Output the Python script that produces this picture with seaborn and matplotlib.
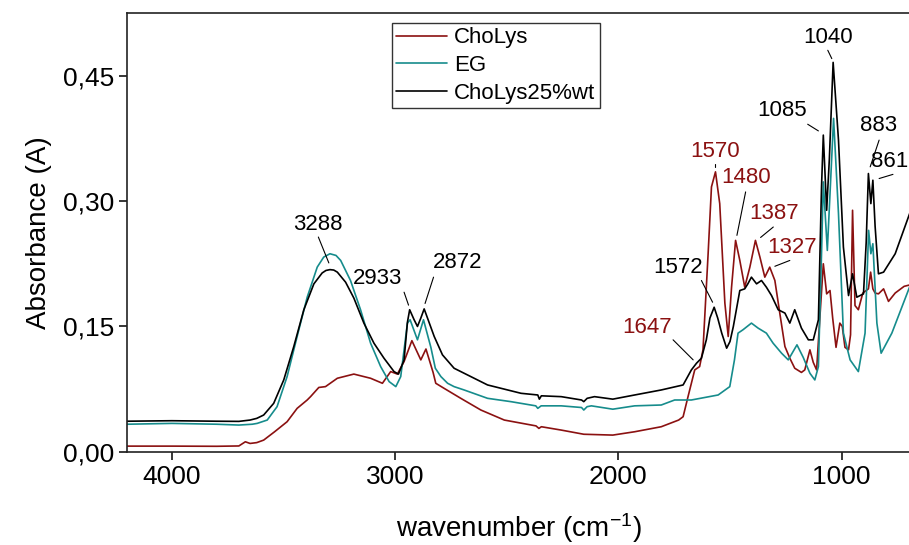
import matplotlib
matplotlib.use("Agg")
import matplotlib.pyplot as plt
from matplotlib.ticker import FuncFormatter
import seaborn as sns
import pandas as pd

# ChoLys (dark red)
wn_cholys = [4200, 4000, 3800, 3700, 3671, 3650, 3620, 3589, 3540, 3484, 3439, 3394, 3379, 3342,
             3312, 3259, 3185, 3110, 3057, 3020, 2990, 2960, 2925, 2885, 2862, 2830, 2818, 2781,
             2706, 2616, 2511, 2369, 2356, 2345, 2256, 2155, 2025, 1927, 1808, 1730, 1710, 1688,
             1658, 1636, 1621, 1598, 1583, 1565, 1546, 1523, 1508, 1493, 1475, 1456, 1434, 1411,
             1386, 1366, 1344, 1322, 1299, 1277, 1254, 1232, 1210, 1180, 1165, 1142, 1127, 1112,
             1098, 1082, 1067, 1052, 1040, 1025, 1008, 997, 985, 969, 960, 951, 940, 925, 905,
             880, 870, 860, 850, 835, 812, 790, 760, 720, 690]
abs_cholys = [0.0068, 0.0068, 0.0066, 0.007, 0.012, 0.010, 0.011, 0.014, 0.024, 0.036, 0.052, 0.062,
              0.066, 0.077, 0.078, 0.088, 0.093, 0.088, 0.082, 0.096, 0.093, 0.108, 0.133, 0.110,
              0.123, 0.095, 0.082, 0.076, 0.064, 0.050, 0.038, 0.031, 0.028, 0.030, 0.026, 0.021,
              0.020, 0.024, 0.030, 0.038, 0.042, 0.066, 0.098, 0.102, 0.122, 0.237, 0.317, 0.335,
              0.297, 0.178, 0.138, 0.197, 0.253, 0.229, 0.197, 0.221, 0.253, 0.233, 0.209, 0.221,
              0.205, 0.166, 0.126, 0.112, 0.100, 0.095, 0.098, 0.122, 0.107, 0.098, 0.158, 0.225,
              0.189, 0.193, 0.160, 0.125, 0.154, 0.150, 0.125, 0.122, 0.140, 0.289, 0.175, 0.170,
              0.190, 0.195, 0.215, 0.195, 0.190, 0.189, 0.195, 0.180, 0.190, 0.198, 0.200]

# EG (teal)
wn_eg = [4200, 4000, 3800, 3700, 3640, 3618, 3573, 3529, 3484, 3439, 3394, 3349, 3320, 3292, 3265,
         3244, 3200, 3155, 3110, 3065, 3027, 2997, 2975, 2945, 2933, 2900, 2873, 2840, 2820, 2795,
         2765, 2736, 2691, 2586, 2481, 2370, 2361, 2346, 2256, 2165, 2155, 2140, 2121, 2025, 1927,
         1808, 1748, 1673, 1553, 1501, 1480, 1464, 1442, 1404, 1374, 1337, 1307, 1269, 1239, 1200,
         1172, 1142, 1120, 1104, 1090, 1082, 1064, 1050, 1036, 1014, 992, 962, 925, 895, 879, 869,
         860, 842, 823, 775, 690]
abs_eg = [0.033, 0.034, 0.033, 0.032, 0.033, 0.034, 0.038, 0.054, 0.090, 0.138, 0.185, 0.221, 0.233,
          0.237, 0.235, 0.229, 0.205, 0.170, 0.130, 0.102, 0.084, 0.078, 0.090, 0.154, 0.158, 0.134,
          0.158, 0.125, 0.100, 0.090, 0.082, 0.078, 0.074, 0.064, 0.060, 0.055, 0.052, 0.055, 0.055,
          0.053, 0.050, 0.054, 0.055, 0.051, 0.055, 0.056, 0.062, 0.062, 0.068, 0.078, 0.110, 0.142,
          0.146, 0.154, 0.148, 0.142, 0.130, 0.118, 0.110, 0.128, 0.113, 0.094, 0.086, 0.102, 0.237,
          0.323, 0.241, 0.320, 0.399, 0.285, 0.142, 0.110, 0.096, 0.142, 0.265, 0.237, 0.249, 0.154,
          0.118, 0.142, 0.201]

# ChoLys25%wt (black)
wn_mix = [4200, 4000, 3800, 3700, 3650, 3620, 3589, 3544, 3499, 3454, 3409, 3364, 3327, 3310, 3292,
          3275, 3259, 3222, 3185, 3140, 3095, 3050, 3005, 2985, 2960, 2945, 2935, 2915, 2900, 2885,
          2870, 2855, 2825, 2788, 2736, 2676, 2586, 2496, 2436, 2361, 2354, 2345, 2256, 2165, 2155,
          2140, 2107, 2025, 1927, 1808, 1710, 1673, 1650, 1628, 1606, 1590, 1571, 1555, 1537, 1515,
          1500, 1485, 1456, 1434, 1420, 1404, 1381, 1359, 1337, 1314, 1284, 1254, 1232, 1210, 1180,
          1149, 1127, 1104, 1090, 1082, 1067, 1055, 1038, 1014, 992, 969, 951, 932, 902, 890, 880,
          869, 860, 850, 835, 812, 760, 690]
abs_mix = [0.0366, 0.0372, 0.0366, 0.0364, 0.038, 0.040, 0.044, 0.058, 0.086, 0.126, 0.170, 0.201,
           0.214, 0.217, 0.218, 0.2175, 0.215, 0.203, 0.184, 0.154, 0.130, 0.112, 0.096, 0.093, 0.110,
           0.155, 0.170, 0.158, 0.150, 0.160, 0.171, 0.160, 0.138, 0.116, 0.100, 0.092, 0.080, 0.074,
           0.070, 0.068, 0.063, 0.067, 0.066, 0.062, 0.060, 0.064, 0.066, 0.063, 0.068, 0.074, 0.080,
           0.098, 0.106, 0.112, 0.134, 0.160, 0.173, 0.160, 0.142, 0.124, 0.132, 0.150, 0.193, 0.195,
           0.201, 0.209, 0.201, 0.205, 0.197, 0.187, 0.170, 0.166, 0.154, 0.170, 0.148, 0.134, 0.134,
           0.158, 0.317, 0.379, 0.289, 0.350, 0.466, 0.373, 0.245, 0.187, 0.213, 0.185, 0.189, 0.250,
           0.333, 0.297, 0.325, 0.270, 0.213, 0.215, 0.237, 0.289]

samples = ["ChoLys", "EG", "ChoLys25%wt"]
colors = ["#8b1111", "#168c8c", "#000000"]

# peak labels and which series colour they take
peak_labels = ["3288", "2933", "2872", "1647", "1572", "1570", "1480", "1387", "1327",
               "1085", "1040", "883", "861"]
peak_series = [2, 2, 2, 0, 2, 0, 0, 0, 0, 2, 2, 2, 2]
# layout of labels: (text x, text y, line from x, y, line to x, y)
label_layout = [
    (3344, 0.272, 3344, 0.257, 3297, 0.226),
    (3077, 0.207, 2960, 0.191, 2940, 0.1755),
    (2719, 0.226, 2828, 0.209, 2866, 0.1775),
    (1870, 0.149, 1755, 0.134, 1665, 0.110),
    (1733, 0.221, 1628, 0.205, 1578, 0.179),
    (1565, 0.359, 1565, 0.345, 1565, 0.341),
    (1430, 0.328, 1430, 0.311, 1469, 0.259),
    (1303, 0.285, 1306, 0.269, 1363, 0.2565),
    (1224, 0.2445, 1232, 0.229, 1299, 0.222),
    (1266, 0.408, 1152, 0.392, 1104, 0.384),
    (1059, 0.496, 1062, 0.4805, 1044, 0.4705),
    (833, 0.391, 832, 0.373, 872, 0.341),
    (787, 0.347, 770, 0.332, 832, 0.327),
]

df = pd.concat([
    pd.DataFrame({"wavenumber": wn_cholys, "absorbance": abs_cholys, "sample": samples[0]}),
    pd.DataFrame({"wavenumber": wn_eg, "absorbance": abs_eg, "sample": samples[1]}),
    pd.DataFrame({"wavenumber": wn_mix, "absorbance": abs_mix, "sample": samples[2]}),
])

sns.set_style("ticks")
plt.rcParams["font.family"] = ["Liberation Sans", "DejaVu Sans"]
plt.rcParams["mathtext.default"] = "regular"
plt.rcParams["text.color"] = "black"
plt.rcParams["axes.labelcolor"] = "black"

fig = plt.figure(figsize=(9.09, 5.45), dpi=100)
ax = fig.add_axes([0.140, 0.171, 0.862, 0.805])

sns.lineplot(data=df, x="wavenumber", y="absorbance", hue="sample", hue_order=samples,
             palette=colors, sort=False, estimator=None, linewidth=1.2, ax=ax)

for lab, s, (tx, ty, x0, y0, x1, y1) in zip(peak_labels, peak_series, label_layout):
    ax.text(tx, ty, lab, color=colors[s], fontsize=16, ha="center", va="center")
    ax.plot([x0, x1], [y0, y1], color="black", linewidth=0.8)

ax.set_xlim(4200, 690)
ax.set_ylim(0, 0.525)
ax.set_xticks([4000, 3000, 2000, 1000])
ax.set_yticks([0, 0.15, 0.30, 0.45])
ax.yaxis.set_major_formatter(FuncFormatter(lambda v, p: f"{v:.2f}".replace(".", ",")))
ax.tick_params(direction="out", length=6, width=1.1, labelsize=19, colors="black",
               labelcolor="black")
for side in ["left", "bottom", "top"]:
    ax.spines[side].set_linewidth(1.2)
    ax.spines[side].set_color("#222222")
ax.spines["right"].set_visible(False)

ax.set_xlabel("wavenumber (cm$^{-1}$)", fontsize=20, labelpad=16, color="black")
ax.set_ylabel("Absorbance (A)", fontsize=20, labelpad=8, color="black")

leg = ax.legend(loc="upper left", bbox_to_anchor=(0.431, 0.958), bbox_transform=fig.transFigure,
                borderaxespad=0, fontsize=16, frameon=True, fancybox=False, handlelength=2.3,
                handletextpad=0.3, labelspacing=0.3, borderpad=0.2)
leg.get_frame().set_edgecolor("#333333")
leg.get_frame().set_linewidth(1.0)
leg.get_frame().set_alpha(1)
for t in leg.get_texts():
    t.set_color("black")

fig.savefig("out.png", dpi=100)
